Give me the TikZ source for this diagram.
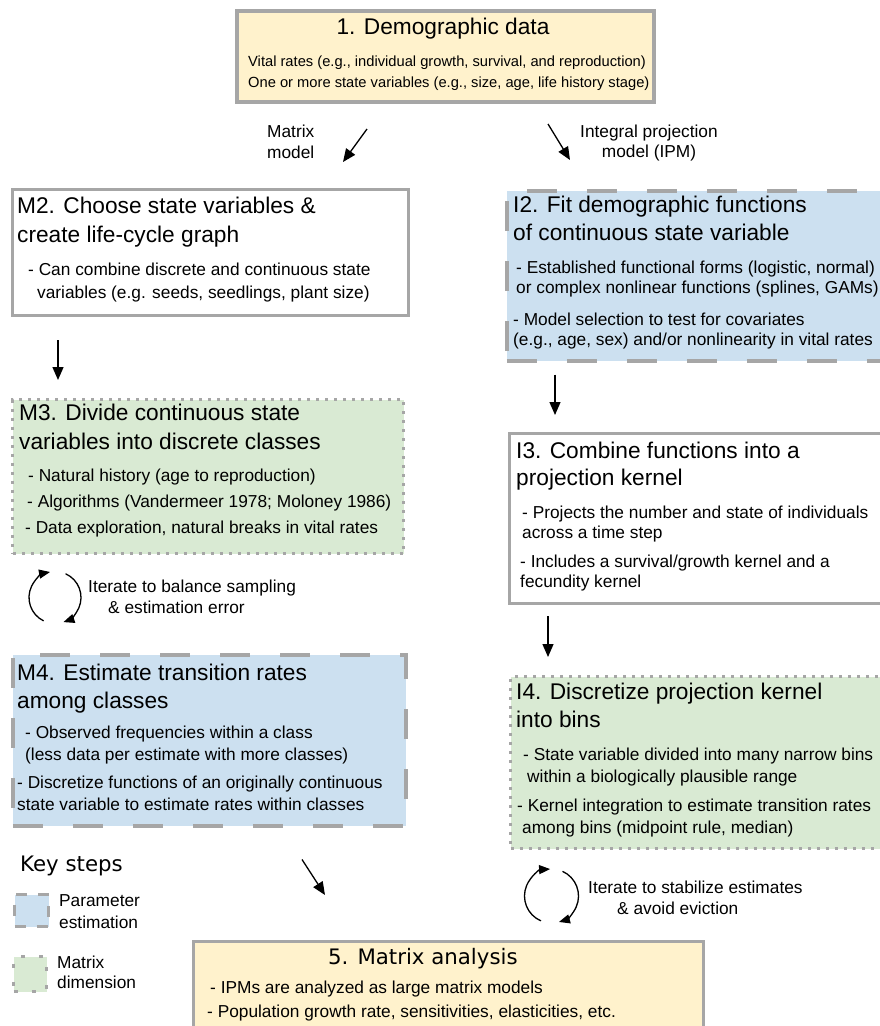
\documentclass[tikz,border=0pt]{standalone}
\usepackage{fontspec}
\setmainfont{Liberation Sans}
\newfontfamily\verdanafont{DejaVu Sans}
\usetikzlibrary{arrows.meta}

\definecolor{boxgray}{RGB}{166,166,166}
\definecolor{yellowfill}{RGB}{255,242,204}
\definecolor{bluefill}{RGB}{204,224,240}
\definecolor{greenfill}{RGB}{217,234,211}

\begin{document}
\begin{tikzpicture}[x=1pt,y=-1pt,
    solidbox/.style={draw=boxgray, line width=3pt, inner sep=0pt, anchor=north west},
    dashbox/.style={draw=boxgray, line width=3.5pt, dash pattern=on 30pt off 30pt, fill=bluefill, inner sep=0pt, anchor=north west},
    dotbox/.style={draw=boxgray, line width=3pt, dash pattern=on 3pt off 6pt, fill=greenfill, inner sep=0pt, anchor=north west},
    boxtitle/.style={inner sep=0pt, anchor=base west, align=left, font=\fontsize{22.7}{#1}\selectfont},
    boxtitle/.default=28.5,
    boxtext/.style={inner sep=0pt, anchor=base west, align=left, font=\fontsize{17.3}{#1}\selectfont},
    boxtext/.default=20,
    flow/.style={line width=1.3pt, -{Triangle[length=13pt,width=11pt]}},
    cycarrow/.style={line width=1.3pt, -{Triangle[length=11pt,width=9pt]}}]
    \clip (0,0) rectangle (880,1026);
    \fill[white] (0,0) rectangle (880,1026);

    % 1. demographic data (multi-line nodes sit on their last baseline)
    \node[solidbox, fill=yellowfill, line width=4pt, minimum width=417pt, minimum height=91pt] (d1) at (235,9) {};
    \node[boxtitle, anchor=base] (d1t) at (443,34) {1. Demographic data};
    \node[boxtext, font=\fontsize{14.7}{21}\selectfont] (d1a) at (248,87) {Vital rates (e.g., individual growth, survival, and reproduction)\\One or more state variables (e.g., size, age, life history stage)};

    \node[boxtext=21] (mlab) at (267,158) {Matrix\\model};
    \node[boxtext, align=center, anchor=base] (ilab) at (649,157) {Integral projection\\model (IPM)};

    % matrix model side
    \node[solidbox, fill=white, minimum width=396pt, minimum height=126pt] (m2) at (11,188) {};
    \node[boxtitle] (m2t) at (17,242) {M2. Choose state variables \&\\create life-cycle graph};
    \node[boxtext=22.5] (m2a) at (28,298) {- Can combine discrete and continuous state\\\hspace*{9pt}variables (e.g. seeds, seedlings, plant size)};

    \node[dotbox, minimum width=391pt, minimum height=154pt] (m3) at (11,398) {};
    \node[boxtitle] (m3t) at (19,449) {M3. Divide continuous state\\variables into discrete classes};
    \node[boxtext] (m3a) at (28,481) {- Natural history (age to reproduction)};
    \node[boxtext] (m3b) at (27,507) {- Algorithms (Vandermeer 1978; Moloney 1986)};
    \node[boxtext] (m3c) at (25,533) {- Data exploration, natural breaks in vital rates};

    \node[boxtext=21] (itl) at (88,613) {Iterate to balance sampling\\\hspace*{20pt}\& estimation error};

    \node[dashbox, minimum width=393pt, minimum height=171pt] (m4) at (11,653) {};
    \node[boxtitle=28] (m4t) at (17,708) {M4. Estimate transition rates\\among classes};
    \node[boxtext=22] (m4a) at (25,760) {- Observed frequencies within a class\\(less data per estimate with more classes)};
    \node[boxtext=22] (m4b) at (17,810) {- Discretize functions of an originally continuous\\state variable to estimate rates within classes};

    % IPM side
    \node[dashbox, minimum width=390pt, minimum height=170pt] (i2) at (505,189) {};
    \node[boxtitle=28] (i2t) at (513,240) {I2. Fit demographic functions\\of continuous state variable};
    \node[boxtext] (i2a) at (516,293) {- Established functional forms (logistic, normal)\\or complex nonlinear functions (splines, GAMs)};
    \node[boxtext] (i2b) at (513,345) {- Model selection to test for covariates\\(e.g., age, sex) and/or nonlinearity in vital rates};

    \node[solidbox, fill=white, minimum width=390pt, minimum height=170pt] (i3) at (508,432) {};
    \node[boxtitle=27] (i3t) at (516,485) {I3. Combine functions into a\\projection kernel};
    \node[boxtext] (i3a) at (522,538) {- Projects the number and state of individuals\\across a time step};
    \node[boxtext] (i3b) at (520,587) {- Includes a survival/growth kernel and a\\fecundity kernel};

    \node[dotbox, minimum width=390pt, minimum height=172pt] (i4) at (509,675) {};
    \node[boxtitle=28] (i4t) at (516,727) {I4. Discretize projection kernel\\into bins};
    \node[boxtext=21.5] (i4a) at (523,782) {- State variable divided into many narrow bins\\\hspace*{4pt}within a biologically plausible range};
    \node[boxtext=22] (i4b) at (517,833) {- Kernel integration to estimate transition rates\\\hspace*{5pt}among bins (midpoint rule, median)};

    \node[boxtext=21] (itr) at (588,914) {Iterate to stabilize estimates\\\hspace*{29pt}\& avoid eviction};

    % 5. matrix analysis
    \node[solidbox, fill=yellowfill, line width=2.5pt, minimum width=510pt, minimum height=110pt] (a5) at (192,940) {};
    \node[boxtitle, font=\verdanafont\fontsize{21.3}{26}\selectfont] (a5t) at (328,964) {5. Matrix analysis};
    \node[boxtext] (a5a) at (210,993) {- IPMs are analyzed as large matrix models};
    \node[boxtext] (a5b) at (207,1017) {- Population growth rate, sensitivities, elasticities, etc.};

    % key
    \node[boxtitle, font=\verdanafont\fontsize{21.3}{26}\selectfont] (key) at (20,871) {Key steps};
    \node[dashbox, line width=3pt, dash pattern=on 11pt off 11pt, minimum width=34pt, minimum height=32pt] (lg1) at (13,893) {};
    \node[boxtext=22] (lg1t) at (59,928) {Parameter\\estimation};
    \node[dotbox, line width=3pt, dash pattern=on 4pt off 14pt, minimum width=33pt, minimum height=35pt] (lg2) at (12,955) {};
    \node[boxtext=20] (lg2t) at (57,988) {Matrix\\dimension};

    % arrows
    \draw[flow] ([shift={(132,25)}]d1.south west) -- ([shift={(332,-26)}]m2.north west);
    \draw[flow] ([shift={(313,20)}]d1.south west) -- ([shift={(65,-29)}]i2.north west);
    \draw[flow] ([shift={(47,23)}]m2.south west) -- ([shift={(47,-18)}]m3.north west);
    \draw[flow] ([shift={(50,12)}]i2.south west) -- ([shift={(47,-17)}]i3.north west);
    \draw[flow] ([shift={(40,11)}]i3.south west) -- ([shift={(39,-18)}]i4.north west);
    \draw[flow] ([shift={(291,32)}]m4.south west) -- ([shift={(133,-45)}]a5.north west);

    % iteration loops
    \coordinate (cl) at (55,597.5);
    \draw[cycarrow] ([shift={(116:26)}]cl) arc[start angle=116, end angle=259, radius=26];
    \draw[cycarrow] ([shift={(-66:26)}]cl) arc[start angle=-66, end angle=71, radius=26];
    \coordinate (cr) at (551.5,896);
    \draw[cycarrow] ([shift={(113:27)}]cr) arc[start angle=113, end angle=267, radius=27];
    \draw[cycarrow] ([shift={(-66:27)}]cr) arc[start angle=-66, end angle=74, radius=27];
\end{tikzpicture}
\end{document}
